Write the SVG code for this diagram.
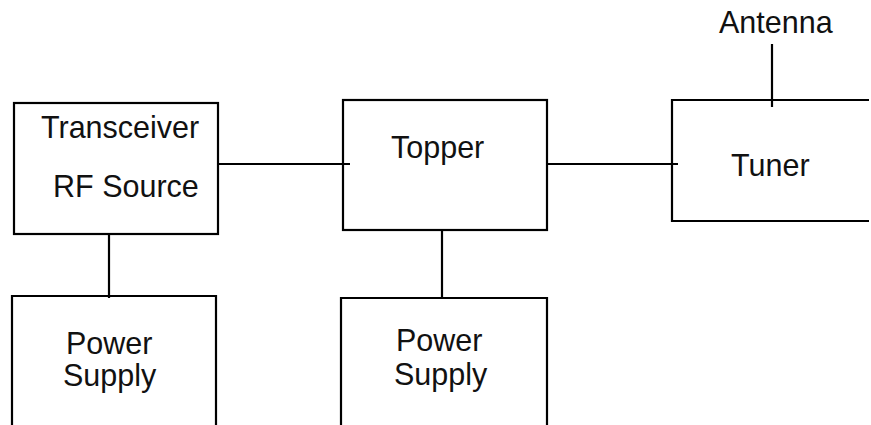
<svg xmlns="http://www.w3.org/2000/svg" width="871" height="425" viewBox="0 0 871 425">
<style>
.box{fill:none;stroke:#000;stroke-width:2.2}
.ln{fill:none;stroke:#000;stroke-width:2.2}
text{font-family:"Liberation Sans",Arial,sans-serif;font-size:30.5px;fill:#111}
</style>
<rect width="871" height="425" fill="#fff"/>
<g id="connectors">
<line class="ln" x1="218" y1="164" x2="350" y2="164"/>
<line class="ln" x1="547" y1="164" x2="678" y2="164"/>
<line class="ln" x1="772" y1="44" x2="772" y2="107"/>
<line class="ln" x1="109" y1="234" x2="109" y2="298"/>
<line class="ln" x1="442" y1="230" x2="442" y2="298"/>
</g>
<g id="transceiver">
<rect class="box" x="14" y="103" width="204" height="131"/>
<text x="41" y="137.5">Transceiver</text>
<text x="53" y="196.5">RF Source</text>
</g>
<g id="topper">
<rect class="box" x="343" y="100" width="204" height="130"/>
<text x="391" y="158">Topper</text>
</g>
<g id="tuner">
<path class="box" d="M869 100 H672 V221 H869"/>
<text x="731" y="176">Tuner</text>
</g>
<g id="antenna">
<text x="719" y="33">Antenna</text>
</g>
<g id="ps1">
<path class="box" d="M12 426 V296 H216 V426"/>
<text x="66" y="354">Power</text>
<text x="63" y="386">Supply</text>
</g>
<g id="ps2">
<path class="box" d="M341 426 V298 H547 V426"/>
<text x="396" y="351">Power</text>
<text x="394" y="385">Supply</text>
</g>
</svg>
